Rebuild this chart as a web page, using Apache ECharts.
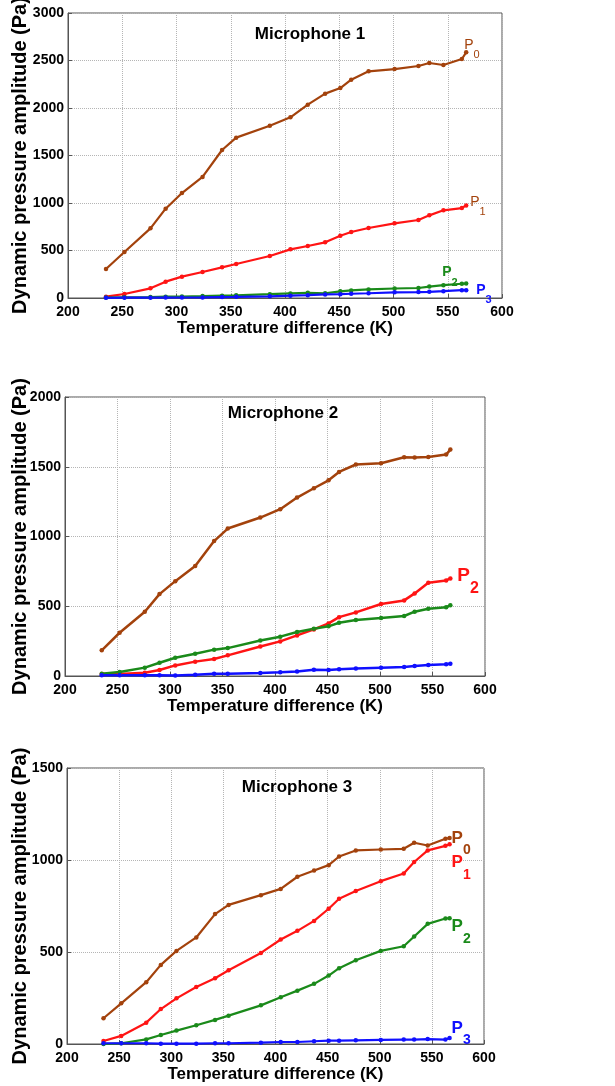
<!DOCTYPE html>
<html>
<head>
<meta charset="utf-8">
<script src="https://cdn.jsdelivr.net/npm/echarts@6/dist/echarts.min.js"></script>
<style>html,body{margin:0;padding:0;background:#fff}#c{width:615px;height:1086px}</style>
</head>
<body>
<div id="c"></div>
<script>
// Temperature difference (K), shared by all series
const temps = [235, 252, 276, 290, 305, 324, 342, 355, 386, 405, 421, 437, 451, 461, 477, 501, 523, 533, 546, 563, 567];

// Microphone 1
const mic1P0 = [305, 484, 733, 940, 1105, 1274, 1558, 1688, 1814, 1902, 2035, 2151, 2210, 2298, 2386, 2410, 2442, 2474, 2453, 2516, 2586];
const mic1P1 = [14, 42, 102, 172, 225, 274, 323, 358, 442, 512, 547, 586, 656, 695, 737, 786, 821, 870, 923, 947, 975];
const mic1P2 = [5, 8, 10, 14, 16, 20, 25, 28, 40, 48, 55, 50, 70, 80, 90, 100, 105, 120, 135, 150, 152];
const mic1P3 = [2, 3, 3, 4, 5, 6, 10, 12, 18, 25, 30, 38, 40, 45, 50, 60, 62, 65, 72, 82, 82];

// Microphone 2
const mic2P0 = [184, 310, 461, 587, 680, 788, 967, 1057, 1136, 1196, 1279, 1346, 1403, 1463, 1516, 1525, 1568, 1566, 1570, 1587, 1623];
const mic2P1 = [14, 14, 24, 43, 76, 103, 122, 148, 212, 248, 291, 334, 377, 422, 456, 516, 542, 592, 668, 685, 699];
const mic2P2 = [17, 29, 60, 95, 131, 160, 189, 200, 255, 282, 315, 339, 356, 382, 401, 415, 430, 461, 482, 492, 508];
const mic2P3 = [5, 5, 5, 5, 4, 9, 16, 16, 22, 27, 33, 45, 43, 48, 53, 60, 64, 72, 79, 84, 88];

// Microphone 3
const mic3P0 = [140, 221, 336, 430, 506, 579, 706, 756, 809, 843, 909, 943, 972, 1019, 1052, 1057, 1061, 1094, 1079, 1116, 1119];
const mic3P1 = [16, 44, 116, 190, 248, 310, 357, 401, 495, 568, 615, 669, 735, 789, 831, 885, 927, 989, 1052, 1077, 1085];
const mic3P2 = [0, 4, 25, 49, 73, 102, 131, 154, 210, 254, 290, 327, 372, 412, 455, 506, 531, 584, 653, 682, 684];
const mic3P3 = [4, 4, 4, 2, 2, 2, 4, 4, 7, 11, 11, 15, 18, 18, 20, 22, 24, 24, 27, 24, 33];

// Axis settings and text
const panelTitles = ['Microphone 1', 'Microphone 2', 'Microphone 3'];
const yMax = [3000, 2000, 1500];
const xName = 'Temperature difference (K)';
const yName = 'Dynamic pressure amplitude (Pa)';

const BROWN = '#a3420c', RED = '#ff1414', GREEN = '#1a8a1a', BLUE = '#1010ff';
const FONT = 'Liberation Sans, Arial, sans-serif';

const grids = [
  {left: 68, top: 13, width: 434, height: 285},
  {left: 65, top: 397, width: 420, height: 279},
  {left: 67, top: 768, width: 417, height: 276}
];

function pair(a, b) { return a.map((v, i) => [v, b[i]]); }

function endLab(sub, color, opts) {
  return {
    show: true,
    distance: 0,
    offset: opts.offset,
    formatter: '{p|P}{s|' + sub + '}',
    rich: {
      p: {fontSize: opts.pf, fontWeight: opts.bold ? 'bold' : 'normal', color: color, fontFamily: FONT, lineHeight: opts.pf + 2, verticalAlign: 'top'},
      s: {fontSize: opts.sf, fontWeight: opts.bold ? 'bold' : 'normal', color: color, fontFamily: FONT, lineHeight: opts.sf + 2, verticalAlign: 'top', padding: [opts.drop, 0, 0, 0]}
    }
  };
}

function line(idx, data, color, label) {
  const s = {
    type: 'line', xAxisIndex: idx, yAxisIndex: idx,
    data: pair(temps, data),
    symbol: 'circle', symbolSize: 4.5,
    itemStyle: {color: color},
    lineStyle: {color: color, width: idx === 1 ? 2.5 : 2.2},
    animation: false
  };
  if (label) s.endLabel = label;
  return s;
}

const series = [
  line(0, mic1P0, BROWN, endLab('0', BROWN, {pf: 14, sf: 11, bold: false, drop: 12, offset: [-2, -6.5]})),
  line(0, mic1P1, RED, endLab('1', BROWN, {pf: 14, sf: 11, bold: false, drop: 12, offset: [4, -2.5]})),
  line(0, mic1P2, GREEN, endLab('2', GREEN, {pf: 14, sf: 11, bold: true, drop: 12, offset: [-24, -10.5]})),
  line(0, mic1P3, BLUE, endLab('3', BLUE, {pf: 14, sf: 11, bold: true, drop: 12, offset: [10, 0.5]})),

  line(1, mic2P0, BROWN),
  line(1, mic2P1, RED, endLab('2', RED, {pf: 19, sf: 16, bold: true, drop: 14, offset: [7, -1.5]})),
  line(1, mic2P2, GREEN),
  line(1, mic2P3, BLUE),

  line(2, mic3P0, BROWN, endLab('0', BROWN, {pf: 17, sf: 14, bold: true, drop: 14, offset: [2, 1]})),
  line(2, mic3P1, RED, endLab('1', RED, {pf: 17, sf: 14, bold: true, drop: 14, offset: [2, 19]})),
  line(2, mic3P2, GREEN, endLab('2', GREEN, {pf: 17, sf: 14, bold: true, drop: 14, offset: [2, 9]})),
  line(2, mic3P3, BLUE, endLab('3', BLUE, {pf: 17, sf: 14, bold: true, drop: 14, offset: [2, -9]}))
];

const axisLineStyle = {color: '#555', width: 1};
const xAxes = grids.map((g, i) => ({
  type: 'value', gridIndex: i, min: 200, max: 600, interval: 50,
  name: xName, nameLocation: 'middle', nameGap: 22,
  nameTextStyle: {fontSize: 17, fontWeight: 'bold', color: '#000', fontFamily: FONT},
  axisLine: {show: true, lineStyle: axisLineStyle},
  axisTick: {show: true, inside: true, length: 4, lineStyle: axisLineStyle},
  axisLabel: {fontSize: 14, fontWeight: 'bold', color: '#000', fontFamily: FONT, margin: 7, showMinLabel: true, showMaxLabel: true, hideOverlap: false},
  splitLine: {show: true, lineStyle: {type: 'dotted', color: '#b5b5b5'}}
}));
const yAxes = grids.map((g, i) => ({
  type: 'value', gridIndex: i, min: 0, max: yMax[i], interval: 500,
  axisLine: {show: true, lineStyle: axisLineStyle},
  axisTick: {show: true, inside: true, length: 4, lineStyle: axisLineStyle},
  axisLabel: {fontSize: 14, fontWeight: 'bold', color: '#000', fontFamily: FONT, margin: 4, showMinLabel: true, showMaxLabel: true, hideOverlap: false, formatter: v => String(v)},
  splitLine: {show: true, lineStyle: {type: 'dotted', color: '#b5b5b5'}}
}));

// vertical y-axis titles, centred on each plot
const yTitles = grids.map(g => ({
  type: 'text', x: 20, y: g.top + g.height / 2, rotation: Math.PI / 2,
  style: {text: yName, fontSize: 20, fontWeight: 'bold', fontFamily: FONT, fill: '#000', align: 'center', verticalAlign: 'middle'}
}));

const titleCenters = [[310, 26], [283, 405], [297, 779]];
const titles = panelTitles.map((t, i) => ({
  text: t, left: titleCenters[i][0], top: titleCenters[i][1], textAlign: 'center',
  padding: 0,
  textStyle: {fontSize: 17, fontWeight: 'bold', color: '#000', fontFamily: FONT}
}));

const chart = echarts.init(document.getElementById('c'), null, {renderer: 'canvas'});
chart.setOption({
  backgroundColor: '#fff',
  animation: false,
  title: titles,
  graphic: yTitles,
  grid: grids.map(g => Object.assign({show: true, borderColor: '#555', borderWidth: 1, backgroundColor: 'transparent', containLabel: false, outerBoundsMode: 'none'}, g)),
  xAxis: xAxes,
  yAxis: yAxes,
  series: series
});
</script>
</body>
</html>
